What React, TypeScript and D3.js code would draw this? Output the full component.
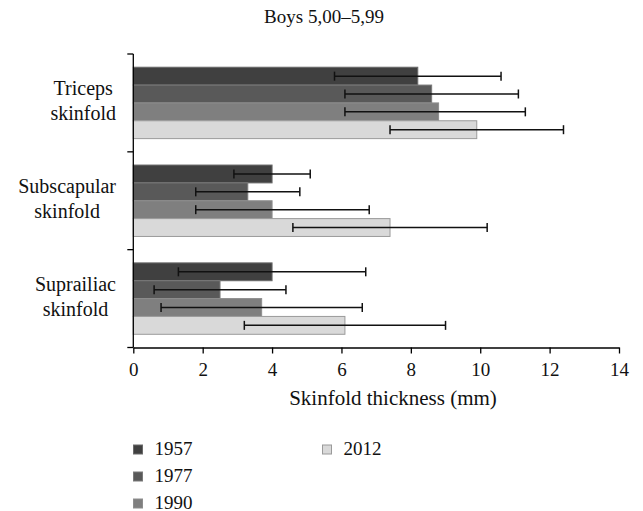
import * as React from "react";
import * as d3 from "d3";

// data
const categories = ["Triceps skinfold", "Subscapular skinfold", "Suprailiac skinfold"];
const years = ["1957", "1977", "1990", "2012"];
const means = [
  [8.2, 8.6, 8.8, 9.9],
  [4.0, 3.3, 4.0, 7.4],
  [4.0, 2.5, 3.7, 6.1],
];
const lows = [
  [5.8, 6.1, 6.1, 7.4],
  [2.9, 1.8, 1.8, 4.6],
  [1.3, 0.6, 0.8, 3.2],
];
const highs = [
  [10.6, 11.1, 11.3, 12.4],
  [5.1, 4.8, 6.8, 10.2],
  [6.7, 4.4, 6.6, 9.0],
];
const xTicks = [0, 2, 4, 6, 8, 10, 12, 14];
const fills = ["#404040", "#595959", "#7f7f7f", "#d9d9d9"];
const strokes = ["#6a6a6a", "#7a7a7a", "#8e8e8e", "#9a9a9a"];

const W = 643;
const H = 511;
const FONT = "'Liberation Serif', 'DejaVu Serif', serif";

export default function App() {
  const svgRef = React.useRef<SVGSVGElement>(null);

  React.useEffect(() => {
    const svg = d3.select(svgRef.current);
    svg.selectAll("*").remove();

    const left = 133.3, right = 619, top = 54, bottom = 347.5;

    const x = d3.scaleLinear().domain([0, 14]).range([left, right]);
    const y = d3.scaleBand<string>().domain(categories).range([top, bottom]).padding(0);
    const sub = d3.scaleBand<string>().domain(years).range([0, y.bandwidth()])
      .paddingInner(0).paddingOuter(0.74);

    // bars
    const rows = svg.append("g");
    categories.forEach((cat, ci) => {
      const g = rows.append("g").attr("transform", `translate(0,${y(cat)})`);
      years.forEach((yr, yi) => {
        g.append("rect")
          .attr("x", x(0))
          .attr("y", sub(yr)!)
          .attr("width", x(means[ci][yi]) - x(0))
          .attr("height", sub.bandwidth())
          .attr("fill", fills[yi])
          .attr("stroke", strokes[yi])
          .attr("stroke-width", 1);
      });
      years.forEach((yr, yi) => {
        const cy = sub(yr)! + sub.bandwidth() / 2;
        const x0 = x(lows[ci][yi]), x1 = x(highs[ci][yi]);
        g.append("line").attr("x1", x0).attr("x2", x1).attr("y1", cy).attr("y2", cy)
          .attr("stroke", "#111").attr("stroke-width", 1.5);
        [x0, x1].forEach((xx) =>
          g.append("line").attr("x1", xx).attr("x2", xx).attr("y1", cy - 4.5).attr("y2", cy + 4.5)
            .attr("stroke", "#111").attr("stroke-width", 1.5)
        );
      });
    });

    // y axis with ticks on band boundaries
    const yAxis = svg.append("g");
    yAxis.append("line").attr("x1", left).attr("x2", left).attr("y1", top).attr("y2", bottom)
      .attr("stroke", "#000").attr("stroke-width", 1.3);
    const bounds = categories.map((c) => y(c)!).concat([bottom]);
    bounds.forEach((b) =>
      yAxis.append("line").attr("x1", left - 6).attr("x2", left).attr("y1", b).attr("y2", b)
        .attr("stroke", "#000").attr("stroke-width", 1.3)
    );

    // category labels: two lines, centred, block right-aligned near axis
    const canvas = document.createElement("canvas");
    const ctx = canvas.getContext("2d")!;
    ctx.font = `20px ${FONT}`;
    categories.forEach((cat) => {
      const lines = cat.split(" ");
      const maxW = d3.max(lines, (l) => ctx.measureText(l).width)!;
      const cx = 116 - maxW / 2;
      const mid = y(cat)! + y.bandwidth() / 2;
      const t = svg.append("text")
        .attr("text-anchor", "middle")
        .attr("font-family", FONT)
        .attr("font-size", 20)
        .attr("fill", "#111");
      lines.forEach((l, i) =>
        t.append("tspan").attr("x", cx).attr("y", mid - 8 + i * 25).text(l)
      );
    });

    // x axis
    const xAxis = svg.append("g").attr("transform", `translate(0,${bottom})`)
      .call(d3.axisBottom(x).tickValues(xTicks).tickSize(6).tickSizeOuter(0).tickPadding(9)
        .tickFormat((d) => String(d)));
    xAxis.select(".domain").attr("stroke", "#000").attr("stroke-width", 1.3);
    xAxis.selectAll(".tick line").attr("stroke", "#000").attr("stroke-width", 1.3);
    xAxis.selectAll(".tick text")
      .attr("font-family", FONT).attr("font-size", 19).attr("fill", "#111");

    svg.append("text")
      .attr("x", 393).attr("y", 405)
      .attr("text-anchor", "middle")
      .attr("font-family", FONT).attr("font-size", 21).attr("fill", "#111")
      .text("Skinfold thickness (mm)");

    // title
    svg.append("text")
      .attr("x", 324).attr("y", 23)
      .attr("text-anchor", "middle")
      .attr("font-family", FONT).attr("font-size", 19).attr("fill", "#111")
      .text("Boys 5,00–5,99");

    // legend: first column three entries, second column the rest
    const legend = svg.append("g");
    years.forEach((yr, i) => {
      const col = Math.floor(i / 3);
      const row = i % 3;
      const lx = 133.5 + col * 189;
      const ly = 445 + row * 27;
      legend.append("rect")
        .attr("x", lx).attr("y", ly).attr("width", 9).attr("height", 9)
        .attr("fill", fills[i]).attr("stroke", strokes[i]).attr("stroke-width", 1);
      legend.append("text")
        .attr("x", lx + 21).attr("y", ly + 9.5)
        .attr("font-family", FONT).attr("font-size", 19).attr("fill", "#111")
        .text(yr);
    });

    return () => { svg.selectAll("*").remove(); };
  }, []);

  return (
    <svg
      ref={svgRef}
      width={W}
      height={H}
      style={{ position: "absolute", left: 0, top: 0, background: "#fff", display: "block" }}
    />
  );
}
